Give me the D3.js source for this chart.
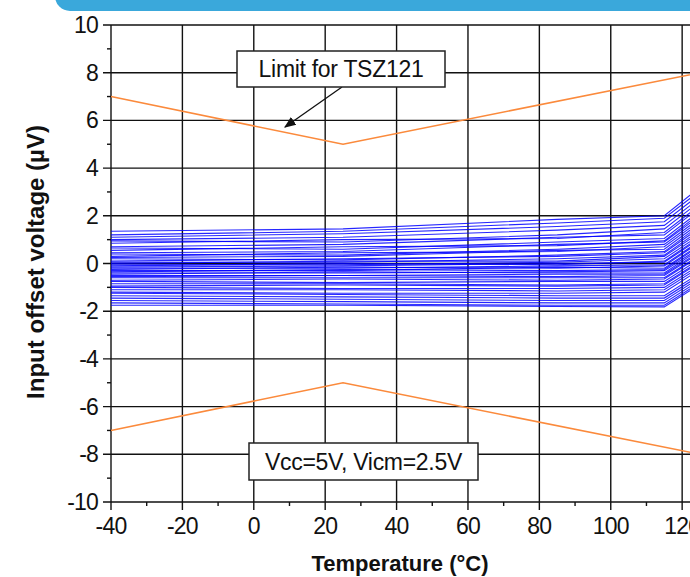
<!DOCTYPE html>
<html>
<head>
<meta charset="utf-8">
<script src="https://cdn.jsdelivr.net/npm/d3@7"></script>
<style>
  html, body { margin: 0; padding: 0; background: #fff; overflow: hidden; }
  svg { display: block; font-family: "Liberation Sans", Arial, sans-serif; }
</style>
</head>
<body>
<div id="container"></div>
<script>
// Data
const temps = [-40, 25, 85, 115, 125];

// one row per measured part: offset (µV) at each temperature above
const parts = [
  [1.35, 1.45, 1.85, 2.0, 3.2],
  [1.2, 1.35, 1.7, 1.9, 3.05],
  [1.1, 1.25, 1.55, 1.75, 2.9],
  [1.0, 1.1, 1.4, 1.6, 2.75],
  [0.95, 0.9, 1.2, 1.45, 2.6],
  [0.85, 1.0, 1.05, 1.3, 2.45],
  [0.7, 0.8, 1.1, 1.2, 2.35],
  [0.65, 0.6, 0.9, 1.05, 2.2],
  [0.55, 0.7, 0.75, 0.95, 2.1],
  [0.45, 0.5, 0.8, 0.9, 2.0],
  [0.4, 0.35, 0.6, 0.8, 1.9],
  [0.3, 0.45, 0.5, 0.7, 1.8],
  [0.25, 0.3, 0.55, 0.6, 1.7],
  [0.2, 0.15, 0.35, 0.5, 1.6],
  [0.1, 0.2, 0.3, 0.45, 1.5],
  [0.05, 0.05, 0.2, 0.35, 1.4],
  [0.0, 0.1, 0.1, 0.3, 1.3],
  [-0.05, -0.05, 0.05, 0.2, 1.2],
  [-0.1, 0.0, -0.05, 0.1, 1.1],
  [-0.15, -0.1, 0.0, 0.05, 1.05],
  [-0.2, -0.2, -0.1, -0.05, 0.95],
  [-0.25, -0.15, -0.2, -0.1, 0.9],
  [-0.3, -0.3, -0.15, -0.2, 0.8],
  [-0.35, -0.25, -0.3, -0.25, 0.75],
  [-0.4, -0.4, -0.35, -0.3, 0.65],
  [-0.45, -0.35, -0.4, -0.4, 0.6],
  [-0.5, -0.5, -0.45, -0.45, 0.5],
  [-0.55, -0.5, -0.55, -0.5, 0.45],
  [-0.6, -0.6, -0.6, -0.6, 0.35],
  [-0.7, -0.65, -0.7, -0.65, 0.3],
  [-0.75, -0.8, -0.75, -0.75, 0.2],
  [-0.85, -0.85, -0.9, -0.85, 0.1],
  [-0.95, -0.9, -0.95, -0.9, 0.05],
  [-1.0, -1.05, -1.05, -1.0, -0.05],
  [-1.1, -1.1, -1.15, -1.1, -0.15],
  [-1.2, -1.25, -1.25, -1.2, -0.25],
  [-1.25, -1.3, -1.35, -1.35, -0.4],
  [-1.35, -1.4, -1.45, -1.45, -0.5],
  [-1.45, -1.5, -1.55, -1.55, -0.6],
  [-1.55, -1.6, -1.65, -1.65, -0.7],
  [-1.65, -1.7, -1.75, -1.75, -0.8],
  [-1.75, -1.75, -1.8, -1.82, -0.87]
];

// spec limits for TSZ121
const limitTemps = [-40, 25, 125];
const limitHigh = [7, 5, 8];
const limitLow = [-7, -5, -8];

const xTicks = [-40, -20, 0, 20, 40, 60, 80, 100, 120];
const xMinor = [-30, -10, 10, 30, 50, 70, 90, 110];
const yTicks = [-10, -8, -6, -4, -2, 0, 2, 4, 6, 8, 10];
const yMinor = [-9, -7, -5, -3, -1, 1, 3, 5, 7, 9];

const width = 690;
const height = 577;

const x = d3.scaleLinear().domain([-40, 125]).range([111, 700]);
const y = d3.scaleLinear().domain([-10, 10]).range([502, 25]);

const svg = d3
  .select("#container")
  .append("svg")
  .attr("width", width)
  .attr("height", height);

// blue banner at the top
svg
  .append("rect")
  .attr("x", 55)
  .attr("y", -20)
  .attr("width", 700)
  .attr("height", 31)
  .attr("rx", 15)
  .attr("fill", "#3aa8db");

// Grid
const grid = svg.append("g").attr("stroke", "#111").attr("stroke-width", 1.4);

grid
  .selectAll("line.v")
  .data(xTicks)
  .enter()
  .append("line")
  .attr("x1", (d) => x(d))
  .attr("x2", (d) => x(d))
  .attr("y1", y(10))
  .attr("y2", y(-10) + 8);

grid
  .selectAll("line.h")
  .data(yTicks)
  .enter()
  .append("line")
  .attr("x1", x(-40) - 8)
  .attr("x2", width)
  .attr("y1", (d) => y(d))
  .attr("y2", (d) => y(d));

// minor ticks
grid
  .selectAll("line.mx")
  .data(xMinor)
  .enter()
  .append("line")
  .attr("x1", (d) => x(d))
  .attr("x2", (d) => x(d))
  .attr("y1", y(-10))
  .attr("y2", y(-10) + 4);

grid
  .selectAll("line.my")
  .data(yMinor)
  .enter()
  .append("line")
  .attr("x1", x(-40) - 4)
  .attr("x2", x(-40))
  .attr("y1", (d) => y(d))
  .attr("y2", (d) => y(d));

// Tick labels
svg
  .append("g")
  .attr("font-size", 23)
  .attr("fill", "#111")
  .attr("text-anchor", "end")
  .selectAll("text")
  .data(yTicks)
  .enter()
  .append("text")
  .attr("x", x(-40) - 13)
  .attr("y", (d) => y(d) + 8)
  .attr("letter-spacing", -0.8)
  .text((d) => d);

svg
  .append("g")
  .attr("font-size", 23)
  .attr("fill", "#111")
  .attr("text-anchor", "middle")
  .selectAll("text")
  .data(xTicks)
  .enter()
  .append("text")
  .attr("x", (d) => x(d))
  .attr("y", 534)
  .attr("letter-spacing", -0.8)
  .text((d) => d);

// Measured parts
const line = d3
  .line()
  .x((d, i) => x(temps[i]))
  .y((d) => y(d));

svg
  .append("g")
  .selectAll("path")
  .data(parts)
  .enter()
  .append("path")
  .attr("d", line)
  .attr("fill", "none")
  .attr("stroke", "#0000ff")
  .attr("stroke-width", 1.1)
  .attr("stroke-opacity", 0.85);

// Limits
const limitLine = d3
  .line()
  .x((d, i) => x(limitTemps[i]))
  .y((d) => y(d));

svg
  .selectAll("path.limit")
  .data([limitHigh, limitLow])
  .enter()
  .append("path")
  .attr("class", "limit")
  .attr("d", limitLine)
  .attr("fill", "none")
  .attr("stroke", "#fb8a3c")
  .attr("stroke-width", 1.6);

// Annotations
svg
  .append("defs")
  .append("marker")
  .attr("id", "arrow")
  .attr("viewBox", "0 0 10 10")
  .attr("refX", 9)
  .attr("refY", 5)
  .attr("markerWidth", 9)
  .attr("markerHeight", 9)
  .attr("orient", "auto")
  .append("path")
  .attr("d", "M0,1 L10,5 L0,9 z")
  .attr("fill", "#111");

svg
  .append("line")
  .attr("x1", 342)
  .attr("y1", 87)
  .attr("x2", 285)
  .attr("y2", 127)
  .attr("stroke", "#111")
  .attr("stroke-width", 1.3)
  .attr("marker-end", "url(#arrow)");

const notes = [
  { text: "Limit for TSZ121", x: 237, y: 51, w: 208, h: 36 },
  { text: "Vcc=5V, Vicm=2.5V", x: 249, y: 443, w: 229, h: 37 }
];

const note = svg.selectAll("g.note").data(notes).enter().append("g");

note
  .append("rect")
  .attr("x", (d) => d.x)
  .attr("y", (d) => d.y)
  .attr("width", (d) => d.w)
  .attr("height", (d) => d.h)
  .attr("fill", "#fff")
  .attr("stroke", "#222")
  .attr("stroke-width", 1.5);

note
  .append("text")
  .attr("x", (d) => d.x + d.w / 2)
  .attr("y", (d) => d.y + d.h / 2 + 8)
  .attr("text-anchor", "middle")
  .attr("font-size", 23)
  .attr("letter-spacing", -0.3)
  .attr("fill", "#111")
  .text((d) => d.text);

// Axis titles
svg
  .append("text")
  .attr("x", 400)
  .attr("y", 571)
  .attr("text-anchor", "middle")
  .attr("font-size", 22)
  .attr("font-weight", "bold")
  .attr("fill", "#111")
  .text("Temperature (°C)");

svg
  .append("text")
  .attr("transform", "translate(44,262) rotate(-90)")
  .attr("text-anchor", "middle")
  .attr("font-size", 24)
  .attr("font-weight", "bold")
  .attr("fill", "#111")
  .text("Input offset voltage (µV)");
</script>
</body>
</html>
